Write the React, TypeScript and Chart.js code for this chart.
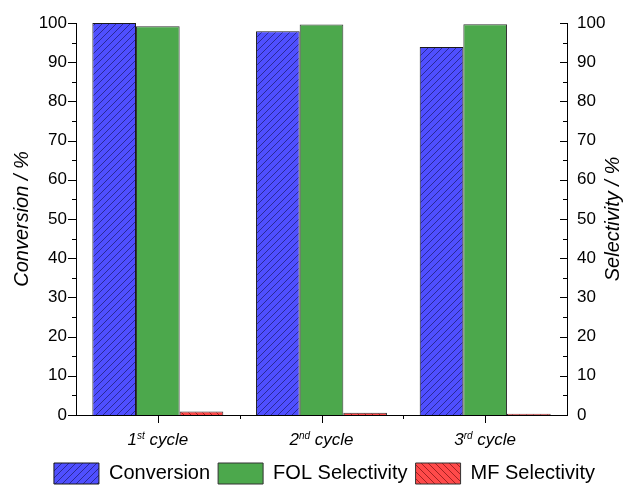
import React, { useEffect, useRef } from 'react';
import { Chart, registerables } from 'chart.js';

Chart.register(...registerables);

const categories = ['1st cycle', '2nd cycle', '3rd cycle'];
const cycleNumbers = ['1', '2', '3'];
const cycleSuffixes = ['st', 'nd', 'rd'];
const cycleWord = ' cycle';

const seriesNames = ['Conversion', 'FOL Selectivity', 'MF Selectivity'];
const conversion = [100, 97.9, 93.9];
const folSelectivity = [99.2, 99.6, 99.7];
const mfSelectivity = [0.9, 0.6, 0.3];

const axisTitles = ['Conversion / %', 'Selectivity / %'];
const yMin = 0;
const yMax = 100;
const yMajorStep = 10;
const yMinorStep = 5;

const FONT = '"Liberation Sans", Arial, Helvetica, sans-serif';

function makeHatch(base: string, line: string, dir: 1 | -1): CanvasPattern | string {
  const size = 7;
  const c = document.createElement('canvas');
  c.width = size;
  c.height = size;
  const g = c.getContext('2d');
  if (!g) return base;
  g.fillStyle = base;
  g.fillRect(0, 0, size, size);
  g.strokeStyle = line;
  g.lineWidth = 0.7;
  g.beginPath();
  if (dir === 1) {
    g.moveTo(-1, size + 1);
    g.lineTo(size + 1, -1);
    g.moveTo(-1, 1);
    g.lineTo(1, -1);
    g.moveTo(size - 1, size + 1);
    g.lineTo(size + 1, size - 1);
  } else {
    g.moveTo(-1, -1);
    g.lineTo(size + 1, size + 1);
    g.moveTo(size - 1, -1);
    g.lineTo(size + 1, 1);
    g.moveTo(-1, size - 1);
    g.lineTo(1, size + 1);
  }
  g.stroke();
  return g.createPattern(c, 'repeat') || base;
}

const decorPlugin = {
  id: 'decor',
  afterDraw(chart: any) {
    const { ctx, chartArea, scales } = chart;
    const y = scales.y;
    const y1 = scales.y1;
    const x = scales.x;
    ctx.save();
    ctx.strokeStyle = '#000';
    ctx.lineWidth = 1;
    ctx.beginPath();
    for (let v = yMin; v <= yMax; v += yMinorStep) {
      const major = v % yMajorStep === 0;
      const py = Math.round(y.getPixelForValue(v)) + 0.5;
      const L = major ? 8 : 4;
      ctx.moveTo(chartArea.left, py);
      ctx.lineTo(chartArea.left - L, py);
      const py1 = Math.round(y1.getPixelForValue(v)) + 0.5;
      const L1 = major ? 7 : 4;
      ctx.moveTo(chartArea.right, py1);
      ctx.lineTo(chartArea.right - L1, py1);
    }
    categories.forEach((_, i) => {
      const px = Math.round(x.getPixelForValue(i)) + 0.5;
      ctx.moveTo(px, chartArea.bottom);
      ctx.lineTo(px, chartArea.bottom + 8);
      if (i > 0) {
        const pb = Math.round((x.getPixelForValue(i - 1) + x.getPixelForValue(i)) / 2) + 0.5;
        ctx.moveTo(pb, chartArea.bottom);
        ctx.lineTo(pb, chartArea.bottom + 4);
      }
    });
    ctx.stroke();

    // x labels with superscripts
    ctx.fillStyle = '#000';
    ctx.textBaseline = 'alphabetic';
    ctx.textAlign = 'left';
    const mainFont = `italic 17px ${FONT}`;
    const supFont = `italic 10px ${FONT}`;
    categories.forEach((_, i) => {
      const px = x.getPixelForValue(i);
      ctx.font = mainFont;
      const wNum = ctx.measureText(cycleNumbers[i]).width;
      const wWord = ctx.measureText(cycleWord).width;
      ctx.font = supFont;
      const wSup = ctx.measureText(cycleSuffixes[i]).width;
      const total = wNum + wSup + wWord;
      let cx = px - total / 2;
      const base = chartArea.bottom + 30;
      ctx.font = mainFont;
      ctx.fillText(cycleNumbers[i], cx, base);
      cx += wNum;
      ctx.font = supFont;
      ctx.fillText(cycleSuffixes[i], cx, base - 6);
      cx += wSup;
      ctx.font = mainFont;
      ctx.fillText(cycleWord, cx, base);
    });

    // axis titles
    const midY = (chartArea.top + chartArea.bottom) / 2;
    ctx.font = `italic 20px ${FONT}`;
    ctx.textAlign = 'center';
    ctx.textBaseline = 'middle';
    ctx.save();
    ctx.translate(22, midY);
    ctx.rotate(-Math.PI / 2);
    ctx.fillText(axisTitles[0], 0, 0);
    ctx.restore();
    ctx.save();
    ctx.translate(613, midY);
    ctx.rotate(-Math.PI / 2);
    ctx.fillText(axisTitles[1], 0, 0);
    ctx.restore();
    ctx.restore();
  },
};

export default function App() {
  const ref = useRef<HTMLCanvasElement | null>(null);
  useEffect(() => {
    if (!ref.current) return;
    const blue = makeHatch('#4f4fff', 'rgba(20,20,90,0.9)', 1);
    const red = makeHatch('#ff4a4a', 'rgba(110,10,10,0.9)', -1);
    const green = '#4ca84c';
    const tickFont = { size: 17, family: FONT };
    const chart = new Chart(ref.current, {
      type: 'bar',
      data: {
        labels: categories,
        datasets: [
          { label: seriesNames[0], data: conversion, yAxisID: 'y', backgroundColor: blue as any, borderColor: '#1a1a1a', borderWidth: 1 },
          { label: seriesNames[1], data: folSelectivity, yAxisID: 'y1', backgroundColor: green, borderColor: '#333', borderWidth: 1 },
          { label: seriesNames[2], data: mfSelectivity, yAxisID: 'y1', backgroundColor: red as any, borderColor: '#333', borderWidth: 1 },
        ],
      },
      options: {
        responsive: false,
        animation: false,
        events: [],
        layout: { padding: { top: 23, left: 20, right: 0, bottom: -8 } },
        datasets: { bar: { categoryPercentage: 0.8, barPercentage: 1.0 } },
        plugins: {
          legend: {
            position: 'bottom',
            labels: {
              boxWidth: 45,
              boxHeight: 21,
              padding: 8,
              color: '#000',
              font: { size: 20, family: FONT },
            },
          },
          tooltip: { enabled: false },
          title: { display: false },
        },
        scales: {
          x: {
            type: 'category',
            offset: true,
            grid: { display: false, drawTicks: false },
            border: { display: true, color: '#000', width: 1 },
            ticks: { display: false },
            afterFit: (s: any) => { s.height = 40; },
          },
          y: {
            position: 'left',
            min: yMin,
            max: yMax,
            ticks: { stepSize: yMajorStep, color: '#000', font: tickFont, padding: 9 },
            grid: { display: false, drawTicks: false },
            border: { display: true, color: '#000', width: 1 },
            afterFit: (s: any) => { s.width = 56; },
          },
          y1: {
            position: 'right',
            min: yMin,
            max: yMax,
            ticks: { stepSize: yMajorStep, color: '#000', font: tickFont, padding: 10 },
            grid: { display: false, drawTicks: false },
            border: { display: true, color: '#000', width: 1 },
            afterFit: (s: any) => { s.width = 62; },
          },
        },
      },
      plugins: [decorPlugin],
    });
    return () => chart.destroy();
  }, []);
  return (
    <div style={{ position: 'absolute', left: 0, top: 0, width: 629, height: 486, background: '#fff' }}>
      <canvas ref={ref} width={629} height={486} style={{ display: 'block' }} />
    </div>
  );
}
